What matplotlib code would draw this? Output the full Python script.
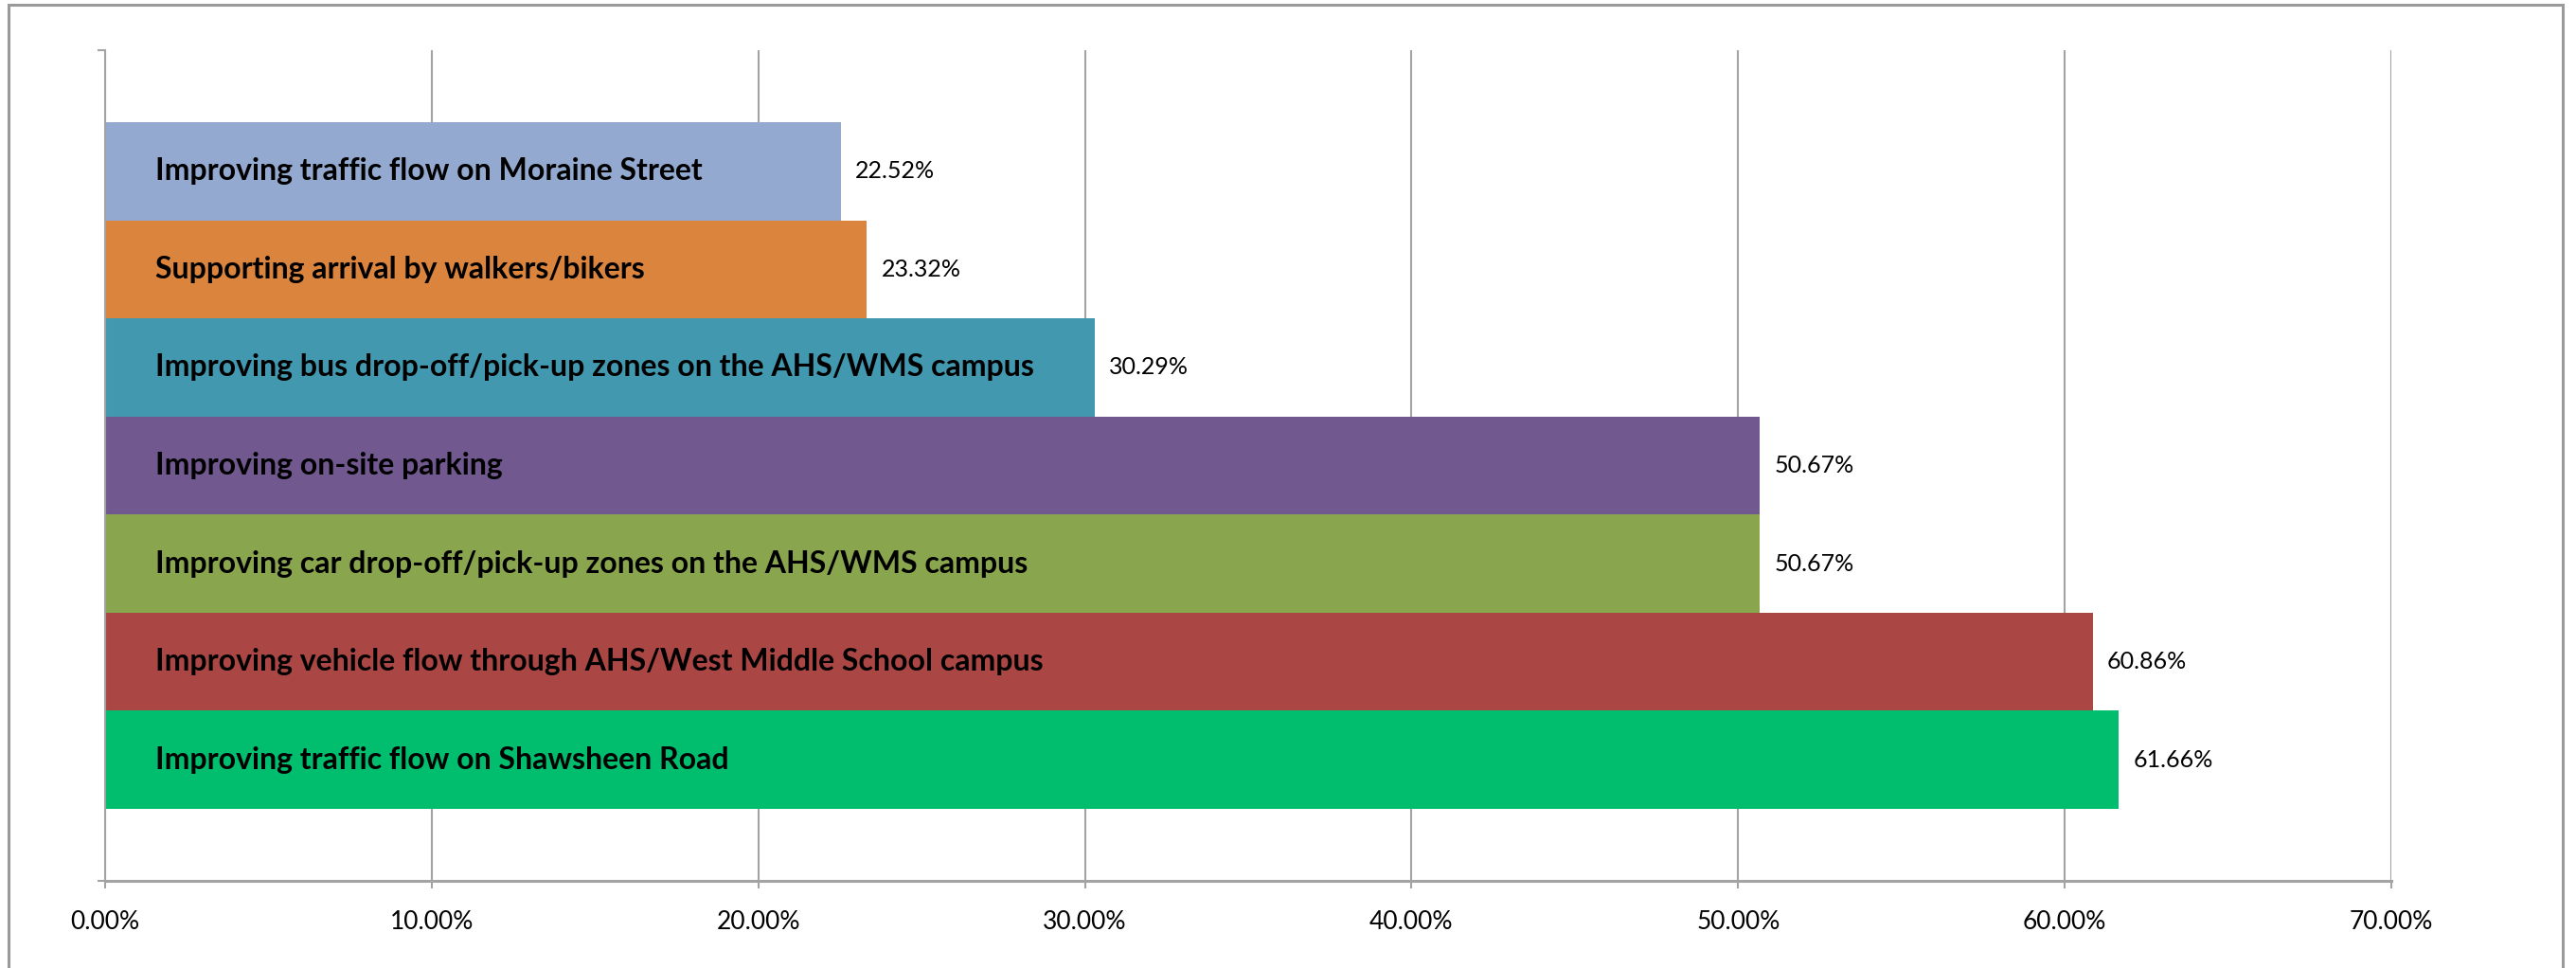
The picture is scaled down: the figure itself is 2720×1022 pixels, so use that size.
import matplotlib

matplotlib.use("Agg")
import matplotlib.pyplot as plt
from matplotlib.patches import Rectangle
from matplotlib.ticker import FuncFormatter, MultipleLocator

# bottom -> top
categories = [
    "Improving traffic flow on Shawsheen Road",
    "Improving vehicle flow through AHS/West Middle School campus",
    "Improving car drop-off/pick-up zones on the AHS/WMS campus",
    "Improving on-site parking",
    "Improving bus drop-off/pick-up zones on the AHS/WMS campus",
    "Supporting arrival by walkers/bikers",
    "Improving traffic flow on Moraine Street",
]
values = [61.66, 60.86, 50.67, 50.67, 30.29, 23.32, 22.52]
colors = ["#00be6e", "#aa4745", "#89a54e", "#71588f", "#4198af", "#db843d", "#93a9cf"]

GRID_C = "#a3a3a3"
FONT = "Lato"

fig = plt.figure(figsize=(27.2, 10.22), dpi=100)
ax = fig.add_axes([111 / 2720, 1 - 930 / 1022, (2525 - 111) / 2720, (930 - 53) / 1022])

ypos = list(range(len(categories)))
bars = ax.barh(ypos, values, height=1.0, color=colors, zorder=2)

for y, name in zip(ypos, categories):
    ax.annotate(name, xy=(0, y), xytext=(38, 0), textcoords="offset points",
                ha="left", va="center", fontsize=23, weight="bold",
                family=FONT, color="black", zorder=3)

ax.bar_label(bars, labels=[f"{v:.2f}%" for v in values], padding=11,
             fontsize=18, family=FONT, color="black")

ax.set_xlim(0, 70)
ax.set_ylim(-1.235, 7.235)
ax.xaxis.set_major_locator(MultipleLocator(10))
ax.xaxis.set_major_formatter(FuncFormatter(lambda v, _: f"{v:.2f}%"))
ax.grid(axis="x", color=GRID_C, linewidth=1.5, zorder=0)
ax.set_axisbelow(True)

ax.set_yticks([-1.235, 7.235])
ax.set_yticklabels([])
ax.tick_params(axis="y", length=6, width=1.5, color=GRID_C)
ax.tick_params(axis="x", length=6, width=1.5, color=GRID_C, pad=16,
               labelsize=19)
for lab in ax.get_xticklabels():
    lab.set_family(FONT)

for side in ("top", "right"):
    ax.spines[side].set_visible(False)
ax.spines["left"].set_color(GRID_C)
ax.spines["left"].set_linewidth(1.5)
ax.spines["bottom"].set_color(GRID_C)
ax.spines["bottom"].set_linewidth(2.2)

# outer chart frame (bottom edge lies off the canvas)
fig.add_artist(Rectangle((9 / 2720, -0.05), (2706 - 9) / 2720, 1.05 - 5 / 1022,
                         transform=fig.transFigure, fill=False,
                         edgecolor="#9a9a9a", linewidth=2.2))

fig.savefig("out.png", dpi=100)
